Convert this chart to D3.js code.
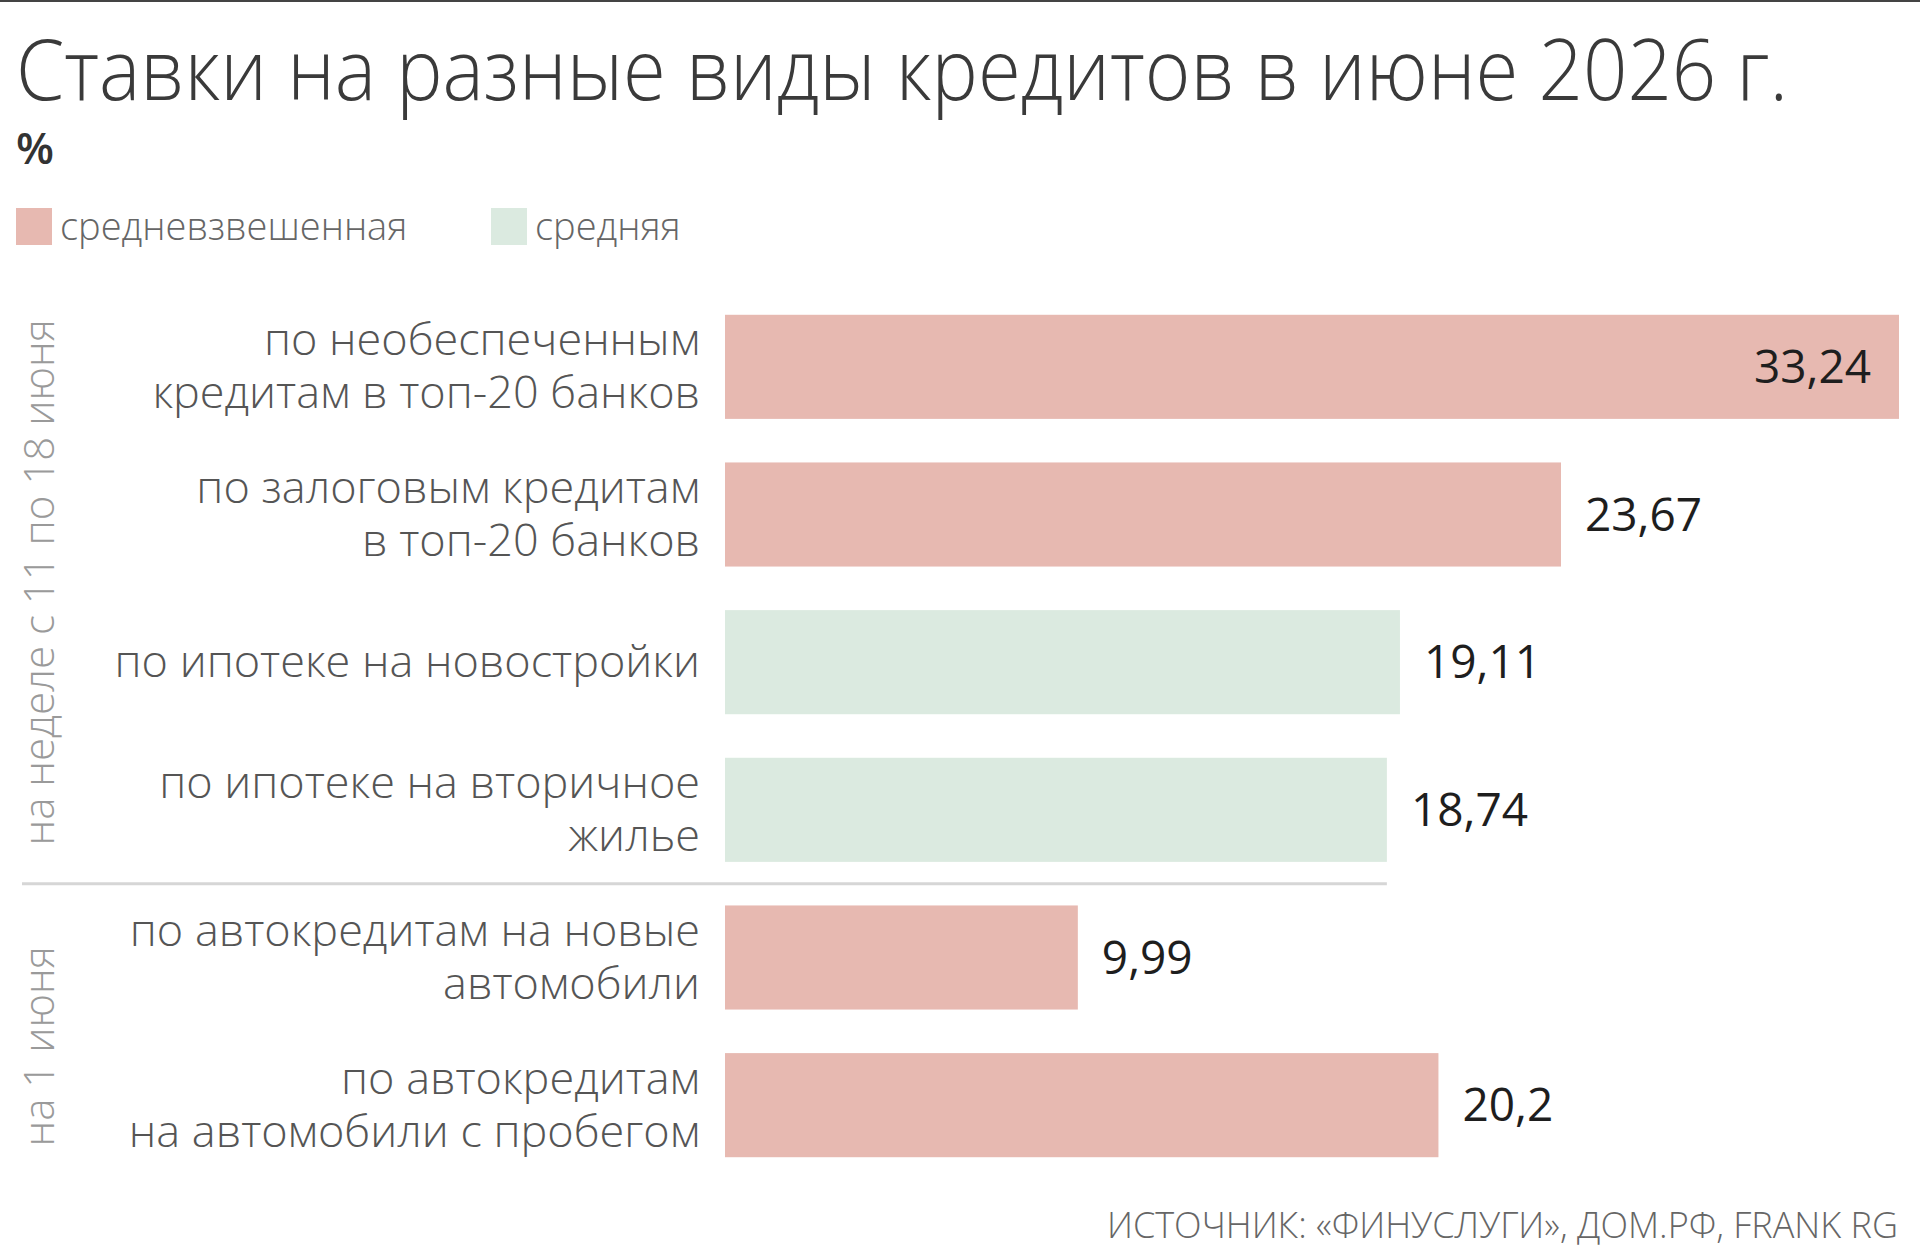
<!DOCTYPE html>
<html>
<head>
<meta charset="utf-8">
<script src="https://cdn.jsdelivr.net/npm/d3@7"></script>
<style>
  body { margin: 0; background: #fff; }
  text { font-family: "Open Sans", "Noto Sans", sans-serif; }
</style>
</head>
<body>
<svg id="chart" width="1920" height="1260"></svg>
<script>
// data
const labels = [
    ["по необеспеченным", "кредитам в топ-20 банков"],
    ["по залоговым кредитам", "в топ-20 банков"],
    ["по ипотеке на новостройки"],
    ["по ипотеке на вторичное", "жилье"],
    ["по автокредитам на новые", "автомобили"],
    ["по автокредитам", "на автомобили с пробегом"]
];
const values = [33.24, 23.67, 19.11, 18.74, 9.99, 20.2];
const kinds = ["w", "w", "a", "a", "w", "w"]; // w = средневзвешенная, a = средняя
const legendNames = ["средневзвешенная", "средняя"];
const groupNames = ["на неделе с 11 по 18 июня", "на 1 июня"];
const groupRows = [[0, 3], [4, 5]];

const colors = { w: "#e7b9b1", a: "#dbeae0" };

const svg = d3.select("#chart");

// top rule
svg.append("line")
    .attr("x1", 0).attr("x2", 1920)
    .attr("y1", 1).attr("y2", 1)
    .style("stroke", "#444").style("stroke-width", 2);

// title (squeezed a little, the original face is narrower)
const title = svg.append("text")
    .attr("y", 100)
    .style("font-size", "84px").style("font-weight", 300)
    .style("fill", "#3a3a3a")
    .text("Ставки на разные виды кредитов в июне 2026 г.");
const titleLen = title.node().getComputedTextLength();
title.attr("transform", `translate(16,0) scale(${1772 / titleLen},1)`);

svg.append("text")
    .attr("x", 16).attr("y", 164)
    .style("font-size", "44px").style("font-weight", 600)
    .style("fill", "#333")
    .text("%");

// legend
const legendX = [16, 491];
legendNames.forEach((name, i) => {
    svg.append("rect")
        .attr("x", legendX[i]).attr("y", 208)
        .attr("width", 36).attr("height", 37)
        .style("fill", colors[i == 0 ? "w" : "a"]);
    svg.append("text")
        .attr("x", legendX[i] + 44).attr("y", 240)
        .style("font-size", "38px").style("font-weight", 300)
        .style("fill", "#666")
        .text(name);
});

// scales
const x = d3.scaleLinear()
    .domain([0, values[0]])
    .range([725, 1899]);

const y = d3.scaleBand()
    .domain(d3.range(values.length))
    .range([293, 1179])
    .paddingInner(0.295)
    .paddingOuter(0.1475);

// bars
svg.selectAll(".bar")
    .data(values)
    .enter().append("rect")
    .attr("class", "bar")
    .attr("x", x(0))
    .attr("y", (d, i) => y(i))
    .attr("width", d => x(d) - x(0))
    .attr("height", y.bandwidth())
    .style("fill", (d, i) => colors[kinds[i]]);

// values
const fmt = v => String(v).replace(".", ",");
values.forEach((v, i) => {
    const inside = i == 0;
    svg.append("text")
        .attr("x", inside ? x(v) - 28 : x(v) + 24)
        .attr("y", y(i) + y.bandwidth() / 2 + 16)
        .attr("text-anchor", inside ? "end" : "start")
        .style("font-size", "46px").style("font-weight", 500)
        .style("fill", "#1e1e1e")
        .text(fmt(v));
});

// category labels
const lineH = 53;
labels.forEach((lines, i) => {
    const cy = y(i) + y.bandwidth() / 2;
    const t = svg.append("text")
        .attr("text-anchor", "end")
        .style("font-size", "45px").style("font-weight", 300)
        .style("fill", "#555");
    lines.forEach((ln, k) => {
        t.append("tspan")
            .attr("x", 700)
            .attr("y", cy + 15 + (k - (lines.length - 1) / 2) * lineH)
            .text(ln);
    });
});

// group labels
const groupShift = [-6, 15];
groupRows.forEach((g, i) => {
    const cy = (y(g[0]) + y(g[1]) + y.bandwidth()) / 2 + groupShift[i];
    svg.append("text")
        .attr("transform", `translate(54,${cy}) rotate(-90)`)
        .attr("text-anchor", "middle")
        .style("font-size", "42px").style("font-weight", 300)
        .style("fill", "#9a9a9a")
        .text(groupNames[i]);
});

// separator between groups
const sepY = (y(3) + y.bandwidth() + y(4)) / 2;
svg.append("line")
    .attr("x1", 22).attr("x2", x(values[3]))
    .attr("y1", sepY).attr("y2", sepY)
    .style("stroke", "#d6d6d6").style("stroke-width", 3);

// source
svg.append("text")
    .attr("x", 1898).attr("y", 1238)
    .attr("text-anchor", "end")
    .style("font-size", "36px").style("font-weight", 300)
    .style("fill", "#666")
    .text("ИСТОЧНИК: «ФИНУСЛУГИ», ДОМ.РФ, FRANK RG");
</script>
</body>
</html>
